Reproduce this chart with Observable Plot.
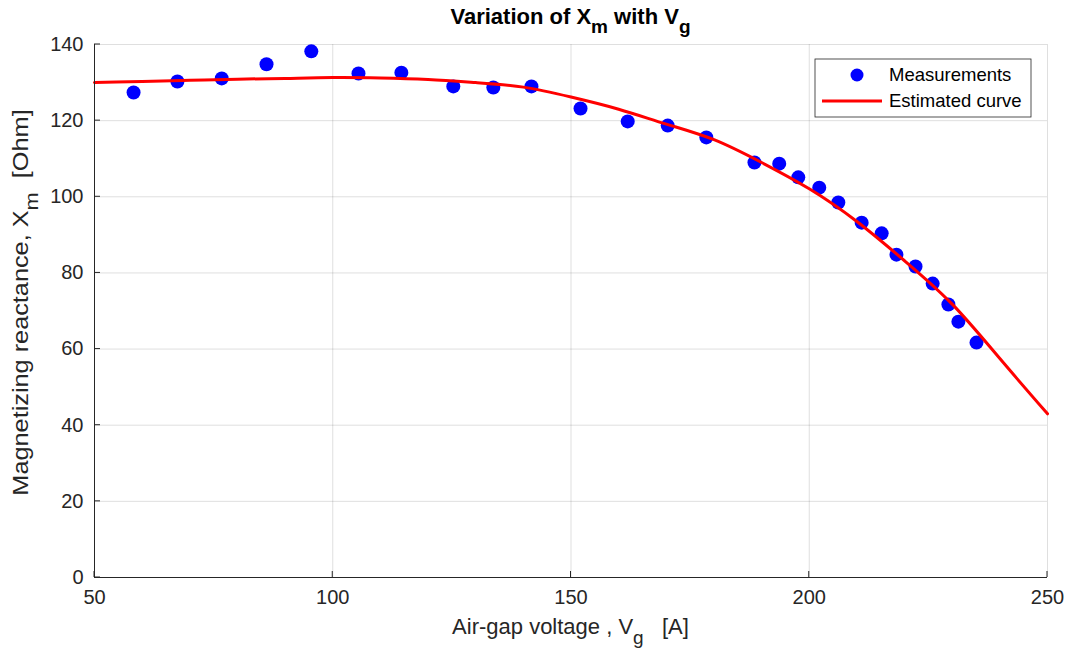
<!DOCTYPE html>
<html><head><meta charset="utf-8">
<script src="https://cdn.jsdelivr.net/npm/d3@7"></script>
<script src="https://cdn.jsdelivr.net/npm/@observablehq/plot@0.6"></script>
<style>body{margin:0;background:#fff;} svg{display:block;}</style>
</head><body><div id="chart"></div>
<script>
// Measurements
const measVg = [58.2, 67.4, 76.7, 86.1, 95.5, 105.4, 114.4, 125.3, 133.7, 141.7, 152.0, 161.9, 170.3, 178.4, 188.5, 193.7, 197.7, 202.1, 206.1, 211.0, 215.2, 218.3, 222.3, 225.9, 229.2, 231.3, 235.1];
const measXm = [127.4, 130.3, 131.1, 134.8, 138.2, 132.4, 132.6, 129.0, 128.7, 129.0, 123.2, 119.8, 118.7, 115.6, 109.0, 108.7, 105.1, 102.4, 98.5, 93.2, 90.4, 84.8, 81.7, 77.2, 71.7, 67.2, 61.7];
// Estimated curve
const curveVg = [50, 60, 70, 80, 90, 100, 110, 120, 130, 140, 150, 160, 170, 180, 190, 200, 210, 220, 230, 240, 250];
const curveXm = [130.0, 130.3, 130.6, 130.9, 131.1, 131.3, 131.2, 130.8, 130.0, 128.8, 126.2, 123.0, 119.1, 115.0, 109.0, 102.1, 93.5, 83.2, 71.8, 57.5, 43.0];
// Ticks
const xTicks = [50, 100, 150, 200, 250];
const yTicks = [0, 20, 40, 60, 80, 100, 120, 140];
const legendLabels = ["Measurements", "Estimated curve"];

const meas = measVg.map((v, i) => ({vg: v, xm: measXm[i]}));
const curve = curveVg.map((v, i) => ({vg: v, xm: curveXm[i]}));

const axisColor = "#262626";
const font = "'Liberation Sans', Arial, Helvetica, sans-serif";

const plot = Plot.plot({
  width: 1072, height: 655,
  marginLeft: 94, marginRight: 25, marginTop: 44, marginBottom: 78,
  style: {fontFamily: font, fontSize: "20px", color: axisColor, background: "#fff", overflow: "visible"},
  x: {domain: [50, 250], ticks: xTicks},
  y: {domain: [0, 140], ticks: yTicks},
  marks: [
    Plot.gridX(xTicks, {stroke: axisColor, strokeOpacity: 0.15}),
    Plot.gridY(yTicks, {stroke: axisColor, strokeOpacity: 0.15}),
    Plot.dot(meas, {x: "vg", y: "xm", r: 7, fill: "#0000ff", stroke: "none"}),
    Plot.line(curve, {x: "vg", y: "xm", stroke: "#ff0000", strokeWidth: 3, curve: "natural"}),
    Plot.ruleX([50], {stroke: axisColor, strokeWidth: 1}),
    Plot.ruleY([0], {stroke: axisColor, strokeWidth: 1}),
    Plot.axisX(xTicks, {tickSize: 0, tickPadding: 12, label: null, fill: axisColor, fontSize: 20}),
    Plot.axisY(yTicks, {tickSize: 0, tickPadding: 11, label: null, fill: axisColor, fontSize: 20})
  ]
});
document.getElementById("chart").appendChild(plot);

const svg = d3.select(plot);
const sx = plot.scale("x"), sy = plot.scale("y");
const [x0, x1] = sx.range, [y0, y1] = sy.range; // y0 bottom, y1 top
const g = svg.append("g").attr("stroke", axisColor).attr("stroke-width", 1);
for (const t of xTicks) {
  const px = sx.apply(t);
  g.append("line").attr("x1", px).attr("x2", px).attr("y1", y0).attr("y2", y0 - 6);
}
for (const t of yTicks) {
  const py = sy.apply(t);
  g.append("line").attr("y1", py).attr("y2", py).attr("x1", x0).attr("x2", x0 + 6);
}

const cx = (x0 + x1) / 2;
// Title
const title = svg.append("text").attr("x", cx).attr("y", 24).attr("text-anchor", "middle")
  .attr("font-family", font).attr("font-size", 22).attr("font-weight", "bold").attr("fill", "#000");
title.append("tspan").text("Variation of X");
title.append("tspan").attr("dy", 9).attr("font-size", 19).text("m");
title.append("tspan").attr("dy", -9).text(" with V");
title.append("tspan").attr("dy", 9).attr("font-size", 19).text("g");

// X label
const xl = svg.append("text").attr("x", cx).attr("y", 634).attr("text-anchor", "middle")
  .attr("font-family", font).attr("font-size", 22).attr("fill", axisColor).style("white-space", "pre");
xl.append("tspan").text("Air-gap voltage , V");
xl.append("tspan").attr("dy", 10).attr("font-size", 19).text("g");
xl.append("tspan").attr("dy", -10).text("   [A]");

// Y label
const cy = (y0 + y1) / 2 - 8;
const yl = svg.append("text").attr("transform", `translate(28,${cy}) scale(1,1.15) rotate(-90)`).attr("text-anchor", "middle")
  .attr("font-family", font).attr("font-size", 22).attr("fill", axisColor).style("white-space", "pre");
yl.append("tspan").text("Magnetizing reactance, X");
yl.append("tspan").attr("dy", 10).attr("font-size", 19).text("m");
yl.append("tspan").attr("dy", -10).text("  [Ohm]");

// Legend
const lg = svg.append("g");
const lx = x1 - 232, ly = y1 + 15;
lg.append("rect").attr("x", lx).attr("y", ly).attr("width", 216).attr("height", 58)
  .attr("fill", "#fff").attr("stroke", axisColor).attr("stroke-width", 0.8);
lg.append("circle").attr("cx", lx + 42).attr("cy", ly + 16).attr("r", 6.5).attr("fill", "#0000ff");
lg.append("line").attr("x1", lx + 7).attr("x2", lx + 67).attr("y1", ly + 42).attr("y2", ly + 42)
  .attr("stroke", "#ff0000").attr("stroke-width", 3);
legendLabels.forEach((t, i) => {
  lg.append("text").attr("x", lx + 74).attr("y", ly + 16 + i * 26).attr("dy", "0.35em")
    .attr("text-anchor", "start")
    .attr("font-family", font).attr("font-size", 18.5).attr("fill", "#000").text(t);
});
</script>
</body></html>
